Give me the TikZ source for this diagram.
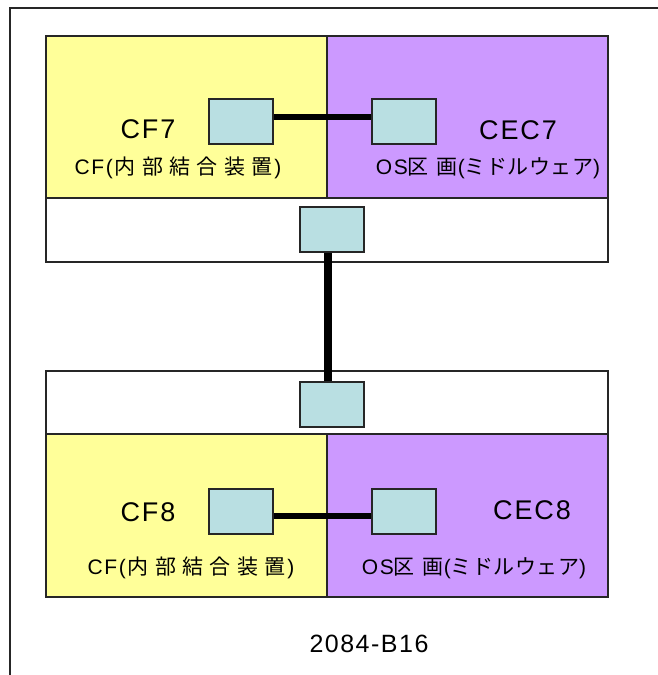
\documentclass[tikz,border=0pt]{standalone}
\usepackage{fontspec}
\setmainfont{Liberation Sans}
\newfontfamily\headfont{Liberation Sans}[LetterSpace=7]
\newfontfamily\footfont{Liberation Sans}[LetterSpace=6]
\newfontfamily\sublat{Liberation Sans}[LetterSpace=8]
\newfontfamily\subjp{Noto Sans CJK JP}[LetterSpace=30]
\newfontfamily\subkana{Noto Sans CJK JP}[LetterSpace=2]
\definecolor{cfyellow}{HTML}{FFFF99}
\definecolor{cecpurple}{HTML}{CC99FF}
\definecolor{portcyan}{HTML}{B9DFE2}
\tikzset{
  panel/.style={draw=black!85, line width=1.5pt},
  port/.style={draw=black!85, fill=portcyan, line width=2pt, minimum width=64pt, minimum height=45pt, inner sep=0pt},
  link/.style={line width=6pt},
  vlink/.style={line width=8pt},
  head/.style={font=\headfont\fontsize{27}{32}\selectfont, inner sep=0pt},
  sub/.style={font=\fontsize{21}{25}\selectfont, inner sep=0pt},
  foot/.style={font=\footfont\fontsize{25}{30}\selectfont, inner sep=0pt}
}
\newcommand{\cfsub}{{\sublat CF(}\hspace{2pt}{\subjp 内部結合装置}\hspace{2pt}{\sublat )}}
\newcommand{\ossub}{{\sublat OS}{\subkana 区}\hspace{8pt}{\subkana 画}{\sublat (}{\subkana ミドルウェア}{\sublat )}}
\begin{document}
\begin{tikzpicture}[x=1pt,y=-1pt]
\useasboundingbox (0,0) rectangle (658,675);
% outer frame (left and top edges)
\draw[line width=1.5pt, black!85] (10,675) -- (10,8) -- (658,8);
% top group
\draw[panel, fill=cfyellow] (46,36) rectangle (327,198);
\draw[panel, fill=cecpurple] (327,36) rectangle (608,198);
\draw[panel, fill=white] (46,198) rectangle (608,262);
% bottom group
\draw[panel, fill=white] (46,371) rectangle (608,434);
\draw[panel, fill=cfyellow] (46,434) rectangle (327,597);
\draw[panel, fill=cecpurple] (327,434) rectangle (608,597);
% ports
\node[port] (a1) at (241,121.5) {};
\node[port] (b1) at (404,121.5) {};
\node[port] (m1) at (332,229.5) {};
\node[port] (m2) at (332,404) {};
\node[port] (a2) at (241,511) {};
\node[port] (b2) at (404,511) {};
% links
\draw[link] ([yshift=4.5pt]a1.east) -- ([yshift=4.5pt]b1.west);
\draw[link] ([yshift=-5pt]a2.east) -- ([yshift=-5pt]b2.west);
\draw[vlink] ([xshift=-4.5pt]m1.south) -- ([xshift=-4.5pt]m2.north);
% labels
\node[head] (cf7) at (148,129) {CF7};
\node[head] (cec7) at (518,130) {CEC7};
\node[head] (cf8) at (148,512) {CF8};
\node[head] (cec8) at (532,510) {CEC8};
\node[sub] (cf7s) at (178,168) {\cfsub};
\node[sub] (cec7s) at (488,168) {\ossub};
\node[sub] (cf8s) at (191,568) {\cfsub};
\node[sub] (cec8s) at (474,568) {\ossub};
\node[foot] (fig) at (369,644) {2084-B16};
\end{tikzpicture}
\end{document}
